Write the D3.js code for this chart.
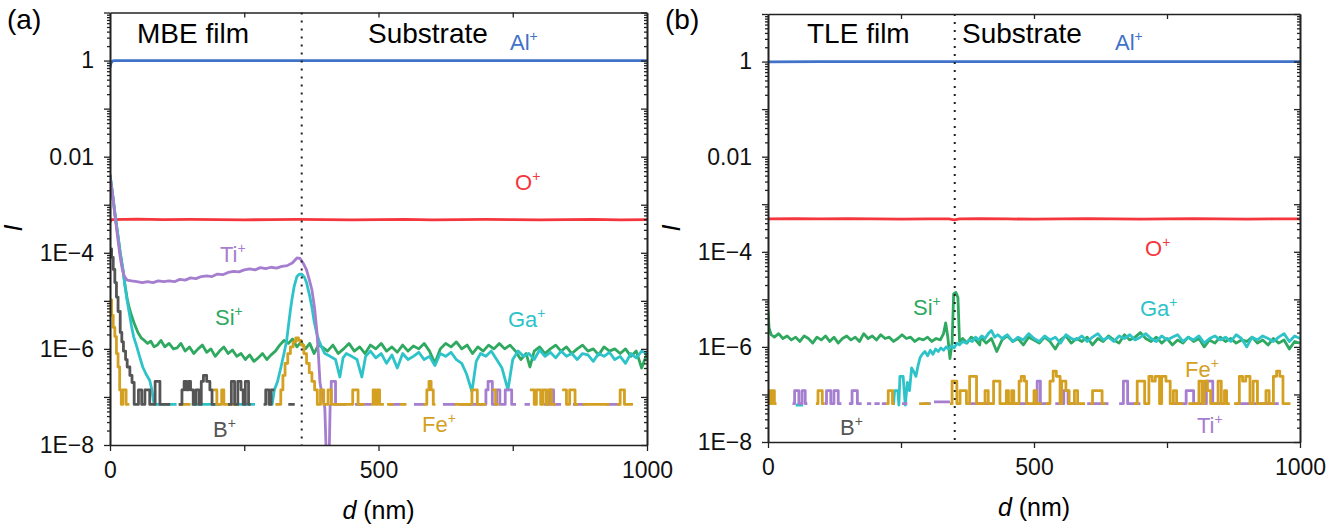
<!DOCTYPE html>
<html>
<head>
<meta charset="utf-8">
<script src="https://cdn.jsdelivr.net/npm/d3@7"></script>
<style>
  body { margin: 0; background: #fff; }
  svg text { font-family: "Liberation Sans", Arial, sans-serif; }
</style>
</head>
<body>
<svg width="1339" height="527"></svg>
<script>
// ---- axis ticks ----
var xTickValues = [0, 250, 500, 750, 1000];
var xTickLabels = ["0", "", "500", "", "1000"];
var yTickValues = [1e-8, 1e-6, 1e-4, 1e-2, 1];
var yTickLabels = ["1E\u22128", "1E\u22126", "1E\u22124", "0.01", "1"];

// ---- (a) MBE film : [d (nm), I] ----
var alA = [[0,0.72],[2,0.9],[5,0.98],[10,1],[300,1],[600,1],[1000,1]];
var oA = [[0,4.4e-4],[3,4.9e-4],[50,5.0e-4],[100,4.9e-4],[150,4.95e-4],[200,4.9e-4],[250,4.85e-4],[300,4.9e-4],
  [350,4.95e-4],[400,4.9e-4],[450,4.85e-4],[500,4.9e-4],[550,4.95e-4],[600,4.85e-4],[650,4.9e-4],[700,4.95e-4],
  [750,4.9e-4],[800,4.85e-4],[850,4.9e-4],[900,4.95e-4],[950,4.85e-4],[1000,4.9e-4]];
var tiA = [[0,4e-3],[5,1.5e-3],[10,5e-4],[15,1.8e-4],[19,8e-5],[23,4.5e-5],[27,3.2e-5],[32,2.7e-5],[40,2.6e-5],
  [50,2.5e-5],[60,2.4e-5],[70,2.5e-5],[80,2.4e-5],[90,2.6e-5],[100,2.5e-5],[110,2.6e-5],[120,2.5e-5],[130,2.8e-5],
  [140,2.7e-5],[150,3e-5],[160,2.9e-5],[170,3.2e-5],[180,3.3e-5],[190,3.2e-5],[200,3.6e-5],[210,3.5e-5],[220,3.9e-5],
  [230,4.1e-5],[240,4e-5],[250,4.4e-5],[260,4.6e-5],[270,4.4e-5],[280,4.9e-5],[290,4.7e-5],[300,5e-5],[310,4.8e-5],
  [320,5.2e-5],[330,5.4e-5],[340,6.2e-5],[348,7.8e-5],[354,7.6e-5],[360,6e-5],[366,4.4e-5],[371,2.8e-5],[376,1.7e-5],
  [381,7e-6],[385,2.5e-6],[388,8e-7],[391,2e-7],[395,1.1e-7],[400,6e-8],[403,5e-9],[408,5e-9],[410,7e-8]];
var tiFloorA = [[410,7e-8],[412,2.1e-7],[420,7e-8],[440,null],[456,7e-8],[486,null],[520,7e-8],[540,null],[566,7e-8],
  [586,null],[620,7e-8],[644,null],[650,7e-8],[700,1.4e-7],[704,2.1e-7],[712,7e-8],[720,1.4e-7],[726,7e-8],[736,1.4e-7],
  [748,7e-8],[756,null],[772,7e-8],[782,null],[808,7e-8],[820,1.4e-7],[826,7e-8],[840,null],[862,7e-8],[884,null],
  [924,7e-8],[950,null]];
var siA = [[0,4.2e-3],[5,1.6e-3],[10,5.5e-4],[15,2.2e-4],[19,1e-4],[24,4.5e-5],[28,2.1e-5],[32,1.1e-5],[36,7e-6],
  [41,4.6e-6],[46,3.2e-6],[52,2.2e-6],[58,1.7e-6],[64,1.5e-6],[70,1.3e-6],[76,1.45e-6],[82,1.1e-6],[88,1.2e-6],
  [95,1.5e-6],[102,1.1e-6],[110,1.3e-6],[118,1e-6],[125,1.05e-6],[132,1.3e-6],[140,9e-7],[148,1.1e-6],[156,8e-7],
  [164,1e-6],[172,1.2e-6],[180,8.5e-7],[188,1e-6],[196,7e-7],[204,9e-7],[212,1.1e-6],[220,8e-7],[228,9.5e-7],
  [236,7e-7],[244,8e-7],[252,6e-7],[260,7.5e-7],[268,5.5e-7],[276,6.5e-7],[284,8e-7],[292,6e-7],[300,7.5e-7],
  [308,9e-7],[316,1.2e-6],[324,1.5e-6],[332,1.3e-6],[340,1.6e-6],[348,1.1e-6],[356,1.4e-6],[364,1e-6],[372,1.3e-6],
  [380,8e-7],[388,1.2e-6],[395,1.1e-6],[405,9e-7],[415,1.2e-6],[425,8e-7],[435,1e-6],[445,1.3e-6],[455,9e-7],
  [465,1.1e-6],[475,8e-7],[485,1.2e-6],[495,1e-6],[505,1.3e-6],[515,9e-7],[525,1.1e-6],[535,8.5e-7],[545,1.2e-6],
  [555,9e-7],[565,1.15e-6],[575,1e-6],[585,1.3e-6],[595,9e-7],[605,5e-7],[615,1e-6],[625,1.3e-6],[635,1.1e-6],
  [645,1.4e-6],[655,1e-6],[665,1.2e-6],[675,8e-7],[685,1.1e-6],[695,9e-7],[705,1.2e-6],[715,1e-6],[725,1.3e-6],
  [735,1e-6],[745,1.2e-6],[755,9e-7],[765,6e-7],[775,8e-7],[782,4.2e-7],[790,9e-7],[800,1.1e-6],[810,8e-7],
  [820,1e-6],[830,1.2e-6],[840,9e-7],[850,1.1e-6],[860,8e-7],[870,1e-6],[880,1.2e-6],[890,9e-7],[900,1e-6],
  [910,7.5e-7],[920,1.1e-6],[930,9e-7],[940,1e-6],[950,8e-7],[960,1e-6],[970,7e-7],[980,9e-7],[990,4e-7],[1000,8e-7]];
var gaA = [[0,4.2e-3],[5,1.6e-3],[10,5.5e-4],[15,2.2e-4],[19,1e-4],[24,4.5e-5],[28,2e-5],[32,1e-5],[36,5.5e-6],
  [40,3e-6],[44,1.8e-6],[50,1.1e-6],[55,7e-7],[61,4.2e-7],[67,3e-7],[74,2.2e-7],[78,1.4e-7],[82,7e-8],[124,7e-8],
  [125,null],[152,7e-8],[206,7e-8],[207,null],[232,7e-8],[270,7e-8],[271,null],[296,7e-8],[302,7e-8],[306,1.4e-7],
  [312,2.1e-7],[318,4e-7],[324,8e-7],[329,1.5e-6],[333,3.5e-6],[336,6.5e-6],[339,1.1e-5],[343,2e-5],[348,3.2e-5],
  [353,3.6e-5],[357,3.6e-5],[362,3.1e-5],[366,2.4e-5],[371,1.4e-5],[376,7.4e-6],[380,3.8e-6],[385,2.1e-6],
  [389,1.5e-6],[394,1.1e-6],[400,8e-7],[410,7e-7],[420,6e-7],[428,2.6e-7],[434,6.5e-7],[440,8e-7],[450,7e-7],
  [460,6e-7],[469,2.6e-7],[476,7e-7],[485,9e-7],[495,6.5e-7],[505,8e-7],[515,5e-7],[525,7.5e-7],[535,4e-7],
  [545,8e-7],[555,6e-7],[565,7e-7],[575,8.5e-7],[585,6e-7],[595,7e-7],[605,4.5e-7],[615,8e-7],[625,7e-7],
  [635,8.5e-7],[645,6e-7],[655,5e-7],[664,3e-7],[674,1.3e-7],[682,5.5e-7],[690,8e-7],[700,7e-7],[710,9e-7],
  [720,6e-7],[730,4e-7],[741,1.4e-7],[750,6e-7],[760,9e-7],[770,7e-7],[780,8e-7],[790,6e-7],[800,9.5e-7],
  [810,7e-7],[820,8.5e-7],[830,6.5e-7],[840,9e-7],[850,7e-7],[860,8e-7],[870,6e-7],[880,8e-7],[890,7.5e-7],
  [900,5.5e-7],[910,8e-7],[920,7e-7],[930,8.5e-7],[940,6e-7],[950,7e-7],[960,5e-7],[970,8e-7],[980,6.5e-7],
  [990,9e-7],[1000,8e-7]];
var feA = [[0,1.05e-5],[3,5e-6],[6,2.8e-6],[9,1.8e-6],[12,8e-7],[15,4.2e-7],[18,1.4e-7],[21,7e-8],[24,1.4e-7],
  [30,7e-8],[36,null],[128,7e-8],[150,null],[192,1.4e-7],[199,7e-8],[208,1.4e-7],[212,7e-8],[238,null],
  [308,7e-8],[318,1.4e-7],[322,2.8e-7],[326,5e-7],[331,8e-7],[336,1.1e-6],[341,1.4e-6],[346,1.7e-6],[351,1.5e-6],
  [356,1.2e-6],[361,8e-7],[366,5e-7],[371,3.2e-7],[376,2.1e-7],[381,1.4e-7],[386,7e-8],[392,1.4e-7],[398,7e-8],
  [406,1.4e-7],[412,7e-8],[452,1.4e-7],[462,7e-8],[474,null],[486,7e-8],[490,1.4e-7],[494,7e-8],[498,1.4e-7],
  [502,7e-8],[510,null],[516,7e-8],[528,null],[540,7e-8],[552,null],[584,7e-8],[590,1.4e-7],[594,2.1e-7],
  [598,1.4e-7],[602,7e-8],[606,null],[642,7e-8],[674,1.4e-7],[684,7e-8],[700,null],[712,1.4e-7],[718,7e-8],
  [724,null],[782,1.4e-7],[790,7e-8],[794,1.4e-7],[802,7e-8],[806,1.4e-7],[812,7e-8],[816,1.4e-7],[822,7e-8],
  [830,null],[842,1.4e-7],[850,7e-8],[856,1.4e-7],[866,7e-8],[872,null],[880,7e-8],[930,null],[944,7e-8],
  [950,1.4e-7],[958,7e-8],[974,null]];
var bA = [[0,1.2e-4],[3,8e-5],[6,4.5e-5],[9,2.4e-5],[12,1.2e-5],[15,6e-6],[19,2.2e-6],[22,1.4e-6],[25,9e-7],
  [29,6e-7],[32,4.2e-7],[37,2.8e-7],[41,2e-7],[45,7e-8],[53,1.4e-7],[59,7e-8],[65,1.4e-7],[74,7e-8],[84,2.1e-7],
  [93,7e-8],[112,null],[128,7e-8],[134,1.4e-7],[138,2.1e-7],[142,1.4e-7],[146,2.1e-7],[150,1.4e-7],[155,7e-8],
  [160,1.4e-7],[166,7e-8],[170,2.1e-7],[174,2.8e-7],[180,2.1e-7],[186,1.4e-7],[190,7e-8],[196,null],[220,7e-8],
  [226,2.1e-7],[232,7e-8],[238,2.1e-7],[244,1.4e-7],[248,7e-8],[252,2.1e-7],[258,7e-8],[262,null],[286,7e-8],
  [290,1.4e-7],[296,7e-8],[300,1.4e-7],[306,null],[332,7e-8],[344,null]];

// ---- (b) TLE film : [d (nm), I] ----
var alB = [[0,0.98],[100,1],[300,1],[600,1],[1000,1]];
var oB = [[0,4.9e-4],[50,5.0e-4],[100,4.9e-4],[150,4.95e-4],[200,4.9e-4],[250,4.85e-4],[300,4.9e-4],[340,4.9e-4],
  [350,4.7e-4],[360,4.9e-4],[400,4.95e-4],[450,4.9e-4],[500,4.85e-4],[550,4.9e-4],[600,4.95e-4],[650,4.9e-4],
  [700,4.85e-4],[750,4.9e-4],[800,4.95e-4],[850,4.9e-4],[900,4.85e-4],[950,4.9e-4],[1000,4.9e-4]];
var siB = [[0,6e-6],[2,2.5e-6],[6,1.8e-6],[12,1.6e-6],[20,1.9e-6],[28,1.5e-6],[36,1.7e-6],[44,1.4e-6],[52,1.6e-6],
  [60,1.3e-6],[68,1.7e-6],[76,1.5e-6],[84,1.2e-6],[92,1.6e-6],[100,1.4e-6],[108,1.7e-6],[116,1.3e-6],[124,1.6e-6],
  [132,1.2e-6],[140,1.5e-6],[148,1.7e-6],[156,1.4e-6],[164,1.6e-6],[172,1.3e-6],[180,1.9e-6],[188,1.5e-6],
  [196,1.7e-6],[204,1.4e-6],[212,1.8e-6],[220,1.5e-6],[228,1.6e-6],[236,1.3e-6],[244,1.5e-6],[252,1.8e-6],
  [260,1.5e-6],[268,1.6e-6],[276,1.3e-6],[284,1.5e-6],[292,1.4e-6],[300,1.6e-6],[308,1.3e-6],[316,1.5e-6],
  [324,1.4e-6],[330,1.9e-6],[334,3.2e-6],[338,1.6e-6],[342,5.7e-7],[346,1.2e-6],[349,1.3e-5],[353,1.4e-5],
  [357,1.1e-5],[360,1.3e-6],[366,1.5e-6],[374,1.2e-6],[382,1.6e-6],[390,1.4e-6],[398,1.1e-6],[400,1.6e-6],
  [410,1.2e-6],[420,1.5e-6],[430,8e-7],[440,1.4e-6],[450,1.7e-6],[460,1.3e-6],[470,1.5e-6],[480,1.1e-6],
  [490,1.6e-6],[500,1.4e-6],[510,1.2e-6],[520,1.6e-6],[530,1.3e-6],[540,9e-7],[550,1.4e-6],[560,1.7e-6],
  [570,1.2e-6],[580,1.5e-6],[590,1.3e-6],[600,1.6e-6],[610,1.1e-6],[620,1.5e-6],[630,1.3e-6],[640,1.7e-6],
  [650,1.4e-6],[660,1.2e-6],[670,1.8e-6],[680,1.4e-6],[690,1.6e-6],[700,2e-6],[710,1.5e-6],[720,1.3e-6],
  [730,1.6e-6],[740,1.2e-6],[750,1.5e-6],[760,1.1e-6],[770,1.4e-6],[780,1.2e-6],[790,1.6e-6],[800,1.3e-6],
  [810,1.5e-6],[820,1e-6],[830,1.4e-6],[840,1.2e-6],[850,1.6e-6],[860,1.3e-6],[870,1.5e-6],[880,1.2e-6],
  [890,1.4e-6],[900,1.3e-6],[910,1.6e-6],[920,1.2e-6],[930,1.4e-6],[940,1.1e-6],[950,1.5e-6],[960,1.2e-6],
  [970,1.4e-6],[980,9e-7],[990,1.3e-6],[1000,1.2e-6]];
var gaB = [[52,6e-8],[66,6e-8],[67,null],[236,6e-8],[238,1.2e-7],[244,1.2e-7],[246,6e-8],[248,2.4e-7],[254,2.4e-7],
  [256,1.2e-7],[258,6e-8],[262,1.8e-7],[266,1.2e-7],[270,3.6e-7],[274,3e-7],[278,2.4e-7],[282,4e-7],[286,6e-7],
  [290,7e-7],[295,8e-7],[300,6.5e-7],[305,8.5e-7],[310,7e-7],[315,9e-7],[320,8e-7],[325,9.5e-7],[330,8.5e-7],
  [335,1e-6],[340,9e-7],[345,1.05e-6],[350,9.5e-7],[355,1.2e-6],[360,1.1e-6],[366,1.3e-6],[372,1.2e-6],
  [378,1.4e-6],[384,1.3e-6],[390,1.6e-6],[396,1.4e-6],[402,1.7e-6],[408,1.5e-6],[414,1.9e-6],[420,2.2e-6],
  [426,1.6e-6],[432,1.8e-6],[440,1.5e-6],[450,1.8e-6],[460,1.3e-6],[470,1.6e-6],[480,1.4e-6],[490,1.9e-6],
  [500,1.5e-6],[510,1.3e-6],[520,1.7e-6],[530,1.4e-6],[540,1.6e-6],[550,1.2e-6],[560,1.8e-6],[570,1.5e-6],
  [580,1.4e-6],[590,1.7e-6],[600,1.3e-6],[610,1.6e-6],[620,1.9e-6],[630,1.4e-6],[640,1.6e-6],[650,1.3e-6],
  [660,1.7e-6],[670,1.5e-6],[680,1.8e-6],[690,1.4e-6],[700,1.6e-6],[710,1.9e-6],[720,1.5e-6],[730,1.3e-6],
  [740,1.7e-6],[750,1.4e-6],[760,1.6e-6],[770,1.8e-6],[780,1.3e-6],[790,1.6e-6],[800,1.4e-6],[810,1.7e-6],
  [820,1.2e-6],[830,1.5e-6],[840,1.7e-6],[850,1.4e-6],[860,1.6e-6],[870,1.3e-6],[880,1.8e-6],[890,1.5e-6],
  [900,1e-6],[910,1.6e-6],[920,1.4e-6],[930,1.7e-6],[940,1.5e-6],[950,1.3e-6],[960,1.6e-6],[970,1.9e-6],
  [980,1.3e-6],[990,1.7e-6],[1000,1.5e-6]];
var feB = [[0,1.2e-7],[4,6.4e-8],[8,1.2e-7],[12,6.4e-8],[16,null],[90,6.4e-8],[94,1.2e-7],[102,6.4e-8],[106,null],
  [222,6.4e-8],[226,1.2e-7],[234,6.4e-8],[238,null],[284,6.4e-8],[304,null],[342,6.4e-8],[346,1.9e-7],[355,6.4e-8],
  [361,1.2e-7],[373,6.4e-8],[379,2.4e-7],[392,6.4e-8],[408,1.2e-7],[414,6.4e-8],[424,1.9e-7],[436,6.4e-8],
  [448,1.2e-7],[452,6.4e-8],[458,1.2e-7],[462,6.4e-8],[472,1.9e-7],[476,2.4e-7],[482,1.9e-7],[486,6.4e-8],
  [500,1.2e-7],[504,6.4e-8],[514,null],[522,6.4e-8],[530,1.9e-7],[536,3.1e-7],[542,2.4e-7],[549,6.4e-8],
  [552,1.9e-7],[560,1.2e-7],[566,6.4e-8],[576,1.2e-7],[582,6.4e-8],[596,null],[606,6.4e-8],[610,1.2e-7],
  [628,6.4e-8],[634,null],[688,6.4e-8],[694,1.9e-7],[708,6.4e-8],[716,2.4e-7],[722,1.9e-7],[728,2.4e-7],
  [736,6.4e-8],[740,2.4e-7],[748,1.9e-7],[756,6.4e-8],[762,1.2e-7],[768,6.4e-8],[780,null],[790,6.4e-8],
  [810,1.9e-7],[816,6.4e-8],[820,1.9e-7],[826,1.2e-7],[832,6.4e-8],[846,1.9e-7],[852,6.4e-8],[858,1.2e-7],
  [862,6.4e-8],[868,null],[876,6.4e-8],[886,2.4e-7],[892,1.9e-7],[898,2.4e-7],[906,6.4e-8],[912,1.9e-7],
  [920,6.4e-8],[936,1.2e-7],[942,6.4e-8],[950,2.4e-7],[956,3.1e-7],[962,2.4e-7],[968,6.4e-8],[982,null]];
var tiB = [[46,6.4e-8],[50,1.2e-7],[58,6.4e-8],[64,1.2e-7],[70,6.4e-8],[74,null],[106,6.4e-8],[110,1.2e-7],
  [118,6.4e-8],[124,1.2e-7],[132,6.4e-8],[138,null],[152,6.4e-8],[158,1.2e-7],[168,6.4e-8],[176,null],
  [186,6.4e-8],[194,null],[200,6.4e-8],[210,null],[214,6.4e-8],[222,null],[252,6.4e-8],[262,null],[292,6.4e-8],
  [306,null],[312,7e-8],[342,null],[380,6.4e-8],[420,null],[450,6.4e-8],[490,null],[496,6.4e-8],[506,1.9e-7],
  [512,6.4e-8],[530,null],[540,6.4e-8],[556,1.2e-7],[564,6.4e-8],[580,null],[600,6.4e-8],[640,null],[660,6.4e-8],
  [668,1.9e-7],[676,6.4e-8],[700,null],[760,6.4e-8],[786,1.2e-7],[800,6.4e-8],[824,1.9e-7],[836,6.4e-8],
  [850,null],[880,6.4e-8],[960,null]];

var colors = { Al: "#3f72c8", O: "#f5363c", Ti: "#a67ecf", Si: "#2fa860", Ga: "#2ec3c9", Fe: "#d4a021", B: "#555555" };

// step series: hold each value until the next sample
function stepify(pts) {
  var out = [];
  pts.forEach(function(p, i) {
    out.push(p);
    var nx = pts[i + 1];
    if (p[1] != null && nx && nx[1] == null) out.push([nx[0], p[1]]);
  });
  return out;
}

function main() {
  var svg = d3.select("svg");
  svg.append("rect").attr("width", 1339).attr("height", 527).attr("fill", "#fff");

  var majors = [], minors = [];
  for (var e = -8; e <= 1; e++) majors.push(Math.pow(10, e));
  for (var e2 = -8; e2 <= 0; e2++)
    for (var k = 2; k <= 9; k++) minors.push(k * Math.pow(10, e2));

  var panels = [
    { id: "a", left: 110, right: 647, top: 12.5, bottom: 445, iface: 357,
      tag: "(a)", film: "MBE film", filmX: 137, subX: 368,
      series: [
        { data: oA, c: colors.O }, { data: alA, c: colors.Al }, { data: siA, c: colors.Si },
        { data: gaA, c: colors.Ga }, { data: tiA, c: colors.Ti }, { data: tiFloorA, c: colors.Ti, step: true },
        { data: feA, c: colors.Fe, step: true }, { data: bA, c: colors.B, step: true }
      ],
      labels: [
        { t: "Al", c: colors.Al, x: 510, y: 50 }, { t: "O", c: colors.O, x: 515, y: 190 },
        { t: "Ti", c: colors.Ti, x: 220, y: 262 }, { t: "Si", c: colors.Si, x: 215, y: 325 },
        { t: "Ga", c: colors.Ga, x: 508, y: 327 }, { t: "Fe", c: colors.Fe, x: 422, y: 432 },
        { t: "B", c: colors.B, x: 213, y: 437 }
      ] },
    { id: "b", left: 768, right: 1300, top: 14, bottom: 442, iface: 351,
      tag: "(b)", film: "TLE film", filmX: 807, subX: 962,
      series: [
        { data: oB, c: colors.O }, { data: alB, c: colors.Al }, { data: siB, c: colors.Si },
        { data: gaB, c: colors.Ga }, { data: tiB, c: colors.Ti, step: true },
        { data: feB, c: colors.Fe, step: true }
      ],
      labels: [
        { t: "Al", c: colors.Al, x: 1115, y: 50 }, { t: "O", c: colors.O, x: 1145, y: 256 },
        { t: "Si", c: colors.Si, x: 913, y: 315 }, { t: "Ga", c: colors.Ga, x: 1140, y: 316 },
        { t: "Fe", c: colors.Fe, x: 1185, y: 377 }, { t: "Ti", c: colors.Ti, x: 1197, y: 433 },
        { t: "B", c: colors.B, x: 840, y: 435 }
      ] }
  ];

  panels.forEach(function(p) {
    var x = d3.scaleLinear().domain([0, 1000]).range([p.left, p.right]);
    var y = d3.scaleLog().domain([1e-8, 10]).range([p.bottom, p.top]);
    var g = svg.append("g");

    svg.append("clipPath").attr("id", "clip-" + p.id)
      .append("rect").attr("x", p.left).attr("y", p.top)
      .attr("width", p.right - p.left).attr("height", p.bottom - p.top);
    var plot = g.append("g").attr("clip-path", "url(#clip-" + p.id + ")");

    p.series.forEach(function(s) {
      var line = d3.line()
        .defined(function(d) { return d[1] != null; })
        .x(function(d) { return x(d[0]); })
        .y(function(d) { return y(d[1]); })
        .curve(s.step ? d3.curveStepAfter : d3.curveLinear);
      plot.append("path")
        .datum(s.step ? stepify(s.data) : s.data)
        .attr("fill", "none")
        .attr("stroke", s.c)
        .attr("stroke-width", 2.8)
        .attr("stroke-linejoin", "round")
        .attr("d", line);
    });

    // film / substrate interface
    g.append("line")
      .attr("x1", x(p.iface)).attr("x2", x(p.iface))
      .attr("y1", p.top).attr("y2", p.bottom)
      .attr("stroke", "#222").attr("stroke-width", 2)
      .attr("stroke-dasharray", "2,6");

    var fmtY = function(v) {
      var i = yTickValues.findIndex(function(t) { return Math.abs(Math.log10(t) - Math.log10(v)) < 1e-6; });
      return i >= 0 ? yTickLabels[i] : "";
    };

    var axes = [
      g.append("g").attr("transform", "translate(" + p.left + ",0)")
        .call(d3.axisLeft(y).tickValues(majors).tickSize(6).tickSizeOuter(0).tickPadding(10).tickFormat(fmtY)),
      g.append("g").attr("transform", "translate(" + p.left + ",0)")
        .call(d3.axisLeft(y).tickValues(minors).tickSize(3).tickSizeOuter(0).tickFormat("")),
      g.append("g").attr("transform", "translate(" + p.right + ",0)")
        .call(d3.axisRight(y).tickValues(majors).tickSize(-6).tickSizeOuter(0).tickFormat("")),
      g.append("g").attr("transform", "translate(" + p.right + ",0)")
        .call(d3.axisRight(y).tickValues(minors).tickSize(-3).tickSizeOuter(0).tickFormat("")),
      g.append("g").attr("transform", "translate(0," + p.bottom + ")")
        .call(d3.axisBottom(x).tickValues(xTickValues).tickSize(6).tickSizeOuter(0).tickPadding(11)
          .tickFormat(function(d, i) { return xTickLabels[i]; })),
      g.append("g").attr("transform", "translate(0," + p.top + ")")
        .call(d3.axisTop(x).tickValues([250, 500, 750]).tickSize(-5).tickSizeOuter(0).tickFormat(""))
    ];
    axes.forEach(function(a) {
      a.attr("font-family", null).attr("font-size", null);
      a.select(".domain").attr("stroke", "#222").attr("stroke-width", 1.6);
      a.selectAll(".tick line").attr("stroke", "#222").attr("stroke-width", 1.3);
      a.selectAll(".tick text").attr("fill", "#111").style("font-size", "23px");
    });

    // panel tag and region names
    g.append("text").attr("x", p.left - 103).attr("y", 29).style("font-size", "28px").text(p.tag);
    g.append("text").attr("x", p.filmX).attr("y", 43).style("font-size", "28px").text(p.film);
    g.append("text").attr("x", p.subX).attr("y", 43).style("font-size", "28px").text("Substrate");

    // ion labels
    p.labels.forEach(function(l) {
      var t = g.append("text").attr("x", l.x).attr("y", l.y).attr("fill", l.c).style("font-size", "22px");
      t.append("tspan").text(l.t);
      t.append("tspan").attr("dy", -9).style("font-size", "14px").text("+");
    });

    // axis titles
    g.append("text")
      .attr("transform", "translate(" + (p.left - 88) + "," + 228 + ") rotate(-90)")
      .attr("text-anchor", "middle")
      .style("font-size", "25px").style("font-style", "italic")
      .text("I");
    var xt = g.append("text")
      .attr("x", (p.left + p.right) / 2).attr("y", p.bottom + 74)
      .attr("text-anchor", "middle").style("font-size", "25px");
    xt.append("tspan").style("font-style", "italic").text("d");
    xt.append("tspan").text(" (nm)");
  });
}
main();
</script>
</body>
</html>
